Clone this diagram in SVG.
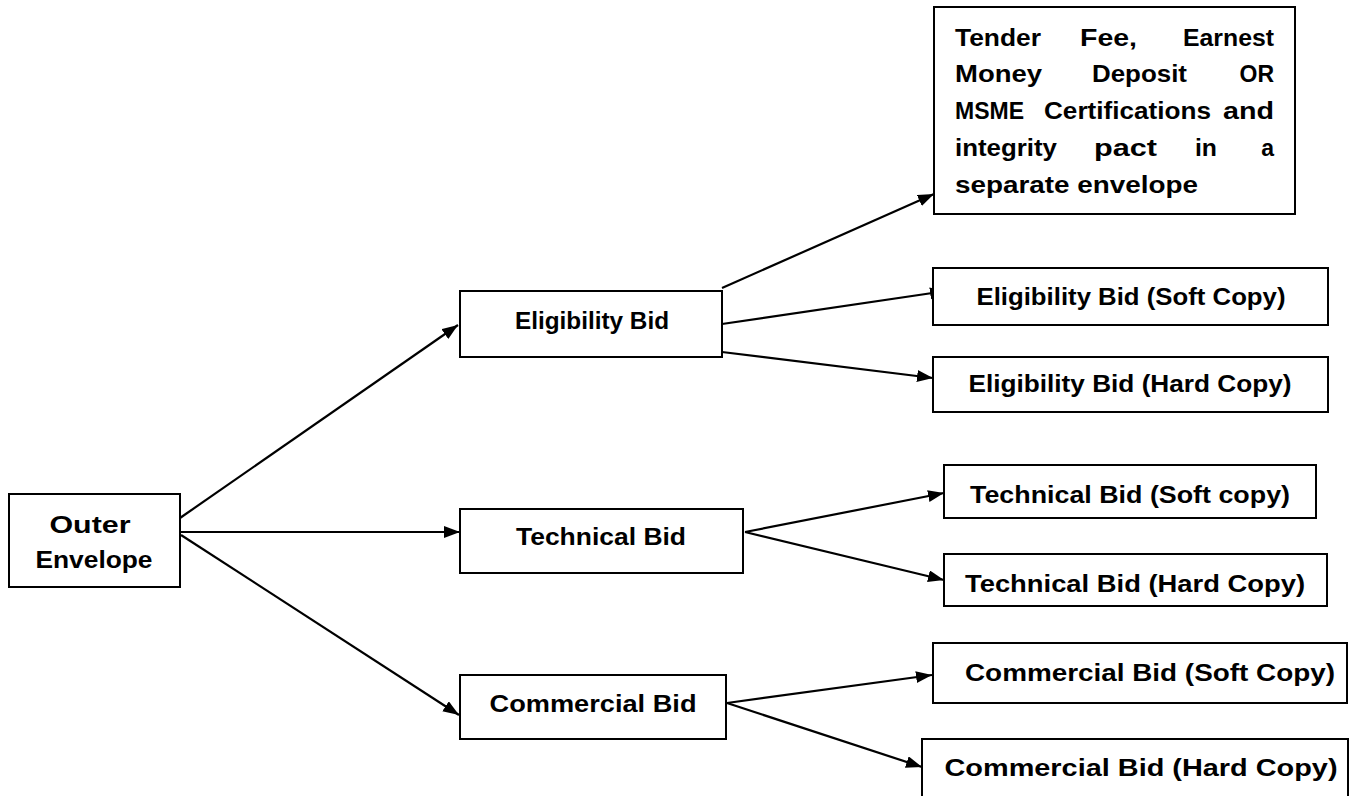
<svg xmlns="http://www.w3.org/2000/svg" width="1357" height="796" viewBox="0 0 1357 796">
<style>
.box{fill:#fff;stroke:#000;stroke-width:2}
.t{font-family:"Liberation Sans",Arial,sans-serif;font-weight:bold;font-size:23px;fill:#000}
.c{text-anchor:middle}
.e{text-anchor:end}
.ln{stroke:#000;stroke-width:2.2;fill:none;marker-end:url(#ah)}
</style>
<defs>
<marker id="ah" markerUnits="userSpaceOnUse" markerWidth="18" markerHeight="14" refX="16" refY="6" orient="auto">
<path d="M0,0 L16,6 L0,12 z" fill="#000"/>
</marker>
</defs>
<rect width="1357" height="796" fill="#fff"/>
<g id="connectors">
<line class="ln" x1="180" y1="518" x2="458" y2="325"/>
<line class="ln" x1="180" y1="532" x2="460" y2="532"/>
<line class="ln" x1="181" y1="535" x2="459" y2="715"/>
<line class="ln" x1="722" y1="288" x2="934" y2="194"/>
<line class="ln" x1="722" y1="324" x2="946" y2="291"/>
<line class="ln" x1="722" y1="352" x2="933" y2="378"/>
<line class="ln" x1="745" y1="532" x2="944" y2="493"/>
<line class="ln" x1="745" y1="532" x2="944" y2="580"/>
<line class="ln" x1="727" y1="703" x2="932" y2="675"/>
<line class="ln" x1="727" y1="703" x2="922" y2="767"/>
</g>
<g id="outer">
<rect class="box" x="9" y="494" width="171" height="93"/>
<text class="t c" x="90" y="533" textLength="81" lengthAdjust="spacingAndGlyphs">Outer</text>
<text class="t c" x="94" y="568" textLength="117" lengthAdjust="spacingAndGlyphs">Envelope</text>
</g>
<g id="eligibility">
<rect class="box" x="460" y="291" width="262" height="66"/>
<text class="t c" x="592" y="329" textLength="154" lengthAdjust="spacingAndGlyphs">Eligibility Bid</text>
</g>
<g id="technical">
<rect class="box" x="460" y="509" width="283" height="64"/>
<text class="t c" x="601" y="545" textLength="170" lengthAdjust="spacingAndGlyphs">Technical Bid</text>
</g>
<g id="commercial">
<rect class="box" x="460" y="675" width="266" height="64"/>
<text class="t c" x="593" y="712" textLength="207" lengthAdjust="spacingAndGlyphs">Commercial Bid</text>
</g>
<g id="tender">
<rect class="box" x="934" y="7" width="361" height="207"/>
<text class="t" x="955" y="46" textLength="86" lengthAdjust="spacingAndGlyphs">Tender</text>
<text class="t" x="1080" y="46" textLength="57" lengthAdjust="spacingAndGlyphs">Fee,</text>
<text class="t" x="1183" y="46" textLength="91" lengthAdjust="spacingAndGlyphs">Earnest</text>
<text class="t" x="955" y="82" textLength="87" lengthAdjust="spacingAndGlyphs">Money</text>
<text class="t" x="1092" y="82" textLength="95" lengthAdjust="spacingAndGlyphs">Deposit</text>
<text class="t e" x="1274" y="82">OR</text>
<text class="t" x="955" y="119">MSME</text>
<text class="t" x="1044" y="119" textLength="167" lengthAdjust="spacingAndGlyphs">Certifications</text>
<text class="t" x="1223" y="119" textLength="51" lengthAdjust="spacingAndGlyphs">and</text>
<text class="t" x="955" y="156" textLength="102" lengthAdjust="spacingAndGlyphs">integrity</text>
<text class="t" x="1094" y="156" textLength="63" lengthAdjust="spacingAndGlyphs">pact</text>
<text class="t" x="1195" y="156" textLength="22" lengthAdjust="spacingAndGlyphs">in</text>
<text class="t e" x="1274" y="156">a</text>
<text class="t" x="955" y="193" textLength="243" lengthAdjust="spacingAndGlyphs">separate envelope</text>
</g>
<g id="elig-soft">
<rect class="box" x="933" y="268" width="395" height="57"/>
<text class="t c" x="1131" y="305" textLength="309" lengthAdjust="spacingAndGlyphs">Eligibility Bid (Soft Copy)</text>
</g>
<g id="elig-hard">
<rect class="box" x="933" y="357" width="395" height="55"/>
<text class="t c" x="1130" y="392" textLength="323" lengthAdjust="spacingAndGlyphs">Eligibility Bid (Hard Copy)</text>
</g>
<g id="tech-soft">
<rect class="box" x="944" y="465" width="372" height="53"/>
<text class="t c" x="1130" y="503" textLength="320" lengthAdjust="spacingAndGlyphs">Technical Bid (Soft copy)</text>
</g>
<g id="tech-hard">
<rect class="box" x="944" y="554" width="383" height="52"/>
<text class="t c" x="1135" y="592" textLength="340" lengthAdjust="spacingAndGlyphs">Technical Bid (Hard Copy)</text>
</g>
<g id="comm-soft">
<rect class="box" x="933" y="643" width="414" height="60"/>
<text class="t c" x="1150" y="681" textLength="370" lengthAdjust="spacingAndGlyphs">Commercial Bid (Soft Copy)</text>
</g>
<g id="comm-hard">
<rect class="box" x="922" y="739" width="426" height="62"/>
<text class="t c" x="1141" y="776" textLength="393" lengthAdjust="spacingAndGlyphs">Commercial Bid (Hard Copy)</text>
</g>
</svg>
